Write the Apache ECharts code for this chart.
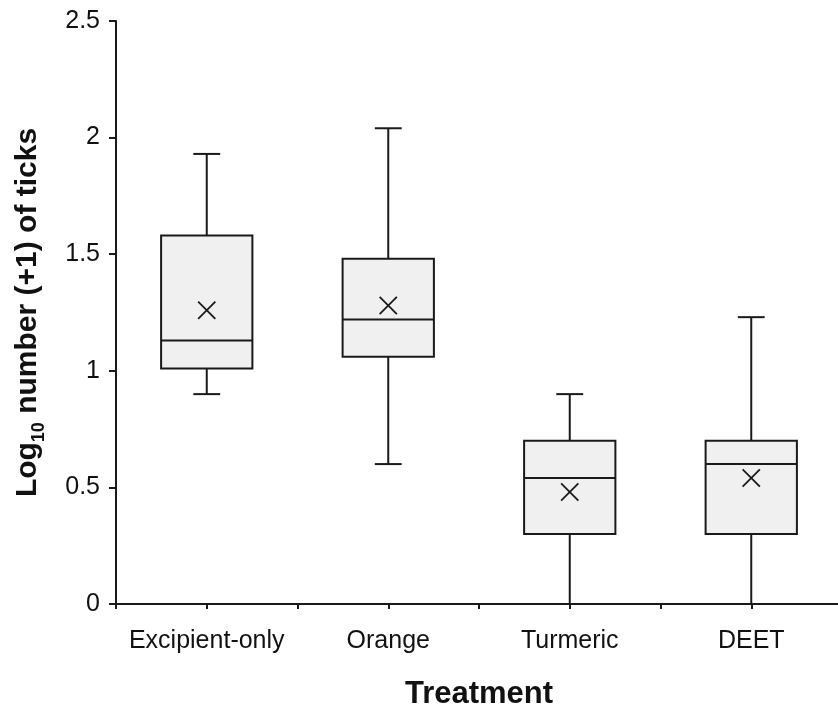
<!DOCTYPE html>
<html><head><meta charset="utf-8">
<script src="https://cdn.jsdelivr.net/npm/echarts@6/dist/echarts.min.js"></script>
<style>html,body{margin:0;padding:0;background:#fff}#c{width:838px;height:706px}</style>
</head><body><div id="c"></div>
<script>
const categories = ['Excipient-only', 'Orange', 'Turmeric', 'DEET'];
const whiskerLow = [0.90, 0.60, 0.00, 0.00];
const quartile1 = [1.01, 1.06, 0.30, 0.30];
const medians = [1.13, 1.22, 0.54, 0.60];
const quartile3 = [1.58, 1.48, 0.70, 0.70];
const whiskerHigh = [1.93, 2.04, 0.90, 1.23];
const means = [1.26, 1.28, 0.48, 0.54];
const yTicks = [0, 0.5, 1, 1.5, 2, 2.5];

const FONT = "'Liberation Sans', Arial, sans-serif";
const INK = '#1a1a1a';

const boxData = categories.map((c, i) => [i, whiskerLow[i], quartile1[i], medians[i], quartile3[i], whiskerHigh[i], means[i]]);

function renderBox(params, api) {
  const i = api.value(0);
  const band = api.size([1, 0])[0];
  const half = band * 0.2515;
  const capHalf = band * 0.074;
  const pLow = api.coord([i, api.value(1)]);
  const pQ1 = api.coord([i, api.value(2)]);
  const pMed = api.coord([i, api.value(3)]);
  const pQ3 = api.coord([i, api.value(4)]);
  const pHigh = api.coord([i, api.value(5)]);
  const pMean = api.coord([i, api.value(6)]);
  const cx = pQ1[0];
  const ls = { stroke: INK, lineWidth: 2, fill: null };
  const mk = 8.6;
  return {
    type: 'group',
    children: [
      { type: 'line', shape: { x1: cx, y1: pQ3[1], x2: cx, y2: pHigh[1] }, style: ls },
      { type: 'line', shape: { x1: cx, y1: pQ1[1], x2: cx, y2: pLow[1] }, style: ls },
      { type: 'line', shape: { x1: cx - capHalf, y1: pHigh[1], x2: cx + capHalf, y2: pHigh[1] }, style: ls },
      { type: 'line', shape: { x1: cx - capHalf, y1: pLow[1], x2: cx + capHalf, y2: pLow[1] }, style: ls },
      { type: 'rect', shape: { x: cx - half, y: pQ3[1], width: 2 * half, height: pQ1[1] - pQ3[1] },
        style: { fill: '#f0f0f0', stroke: INK, lineWidth: 2 } },
      { type: 'line', shape: { x1: cx - half, y1: pMed[1], x2: cx + half, y2: pMed[1] }, style: ls },
      { type: 'line', shape: { x1: cx - mk, y1: pMean[1] - mk, x2: cx + mk, y2: pMean[1] + mk },
        style: { stroke: INK, lineWidth: 1.8 } },
      { type: 'line', shape: { x1: cx - mk, y1: pMean[1] + mk, x2: cx + mk, y2: pMean[1] - mk },
        style: { stroke: INK, lineWidth: 1.8 } }
    ]
  };
}

const chart = echarts.init(document.getElementById('c'), null, { renderer: 'canvas' });
chart.setOption({
  backgroundColor: '#ffffff',
  animation: false,
  grid: { left: 116, right: -4, top: 21, bottom: 102, containLabel: false, outerBoundsMode: 'none' },
  xAxis: {
    type: 'value',
    min: -0.5,
    max: categories.length - 0.5,
    interval: 0.5,
    splitLine: { show: false },
    axisLine: { show: true, onZero: false, lineStyle: { color: INK, width: 2 } },
    axisTick: { show: true, length: 5, lineStyle: { color: INK, width: 2 } },
    axisLabel: {
      margin: 25,
      fontFamily: FONT, fontSize: 25, color: '#111',
      showMinLabel: true, showMaxLabel: true,
      formatter: function (v) {
        const r = Math.round(v);
        return (Math.abs(v - r) < 1e-6 && r >= 0 && r < categories.length) ? categories[r] : '';
      }
    },
    name: 'Treatment',
    nameLocation: 'middle',
    nameGap: 75,
    nameTextStyle: { fontFamily: FONT, fontSize: 31, fontWeight: 'bold', color: '#111' }
  },
  yAxis: {
    type: 'value',
    min: yTicks[0],
    max: yTicks[yTicks.length - 1],
    interval: yTicks[1] - yTicks[0],
    splitLine: { show: false },
    axisLine: { show: true, onZero: false, lineStyle: { color: INK, width: 2 } },
    axisTick: { show: true, length: 7, lineStyle: { color: INK, width: 2 } },
    axisLabel: { margin: 16, fontFamily: FONT, fontSize: 25, color: '#111' },
    name: '{b|Log}{s|10}{b| number (+1) of ticks}',
    nameLocation: 'middle',
    nameRotate: 90,
    nameGap: 68,
    nameTextStyle: {
      color: '#111',
      rich: {
        b: { fontFamily: FONT, fontSize: 30, fontWeight: 'bold', lineHeight: 40, color: '#111' },
        s: { fontFamily: FONT, fontSize: 18, fontWeight: 'bold', lineHeight: 18, verticalAlign: 'bottom', color: '#111' }
      }
    }
  },
  series: [{
    type: 'custom',
    clip: false,
    renderItem: renderBox,
    encode: { x: 0, y: [1, 2, 3, 4, 5, 6] },
    data: boxData
  }]
});
</script>
</body></html>
